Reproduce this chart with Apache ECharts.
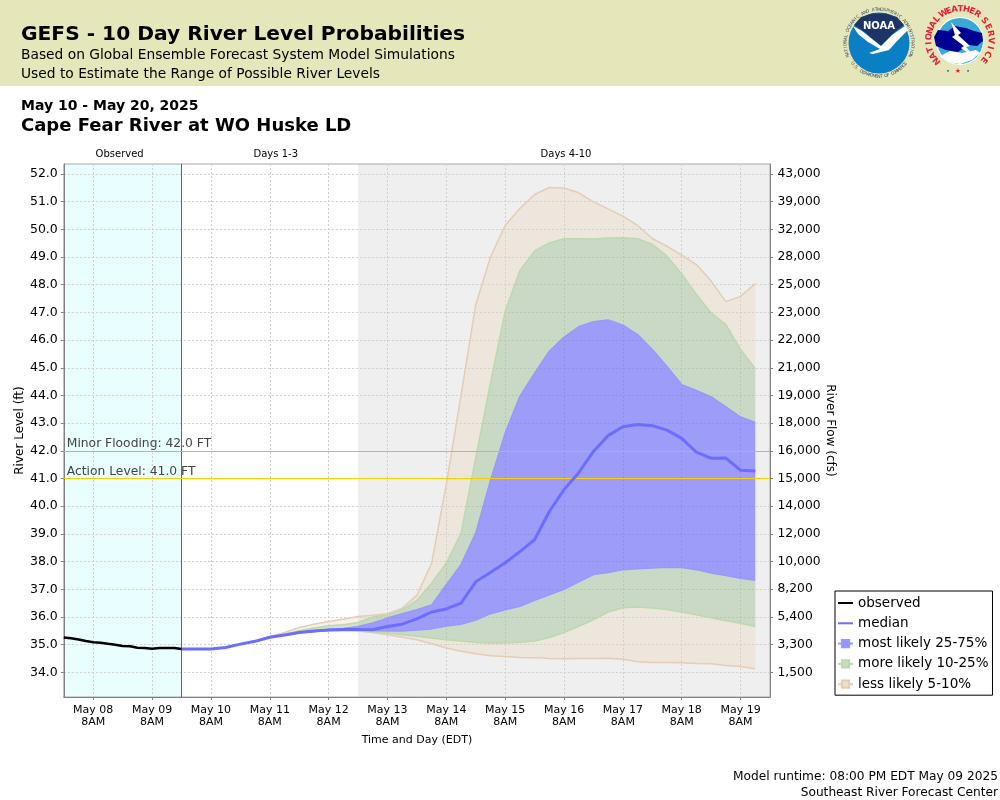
<!DOCTYPE html>
<html>
<head>
<meta charset="utf-8">
<title>GEFS - 10 Day River Level Probabilities</title>
<style>
  html, body { margin: 0; padding: 0; background: #fff; }
  #chart { width: 1000px; height: 800px; }
</style>
<script src="https://cdn.jsdelivr.net/npm/echarts@6/dist/echarts.min.js"></script>
</head>
<body>
<div id="chart"></div>
<script>
// tick labels
var levelTicks = [34, 35, 36, 37, 38, 39, 40, 41, 42, 43, 44, 45, 46, 47, 48, 49, 50, 51, 52];
var flowLabels = ['1,500', '3,300', '5,400', '8,200', '10,000', '12,000', '14,000', '15,000', '16,000', '18,000',
  '19,000', '21,000', '22,000', '23,000', '25,000', '28,000', '32,000', '39,000', '43,000'];
var dayLabels = ['May 08', 'May 09', 'May 10', 'May 11', 'May 12', 'May 13', 'May 14', 'May 15', 'May 16', 'May 17', 'May 18', 'May 19'];

// observed stage, every 3 hours from May 7 8PM
var observed = [35.26, 35.23, 35.19, 35.13, 35.09, 35.07, 35.03, 35.00, 34.95, 34.94, 34.89, 34.88, 34.85, 34.88, 34.88, 34.88, 34.84];

// forecast percentiles, every 6 hours from May 9 8PM
var median = [34.84, 34.84, 34.84, 34.90, 35.02, 35.12, 35.27, 35.35, 35.44, 35.49, 35.53, 35.55, 35.55, 35.54, 35.66, 35.74, 35.93, 36.18, 36.29, 36.50,
  37.27, 37.61, 37.96, 38.36, 38.79, 39.81, 40.60, 41.21, 41.98, 42.55, 42.87, 42.95, 42.91, 42.75, 42.45, 41.95, 41.73, 41.74, 41.30, 41.27];
var p95 = [34.84, 34.84, 34.84, 34.90, 35.02, 35.14, 35.29, 35.44, 35.62, 35.74, 35.84, 35.92, 36.02, 36.06, 36.12, 36.32, 36.78, 37.94, 40.80, 44.00,
  47.28, 49.00, 50.14, 50.75, 51.26, 51.51, 51.49, 51.32, 50.99, 50.74, 50.48, 50.14, 49.67, 49.39, 49.07, 48.73, 48.13, 47.39, 47.58, 48.04];
var p90 = [34.84, 34.84, 34.84, 34.90, 35.02, 35.13, 35.28, 35.38, 35.50, 35.60, 35.68, 35.72, 35.80, 36.00, 36.08, 36.26, 36.60, 37.22, 37.95, 39.03,
  41.75, 44.45, 47.04, 48.51, 49.22, 49.51, 49.66, 49.66, 49.65, 49.69, 49.70, 49.66, 49.46, 49.03, 48.39, 47.65, 46.98, 46.56, 45.66, 44.97];
var p75 = [34.84, 34.84, 34.84, 34.90, 35.02, 35.12, 35.27, 35.36, 35.45, 35.50, 35.55, 35.58, 35.66, 35.78, 35.96, 36.12, 36.26, 36.43, 37.17, 37.89,
  39.03, 40.93, 42.64, 43.97, 44.81, 45.60, 46.11, 46.48, 46.66, 46.73, 46.54, 46.20, 45.66, 45.05, 44.39, 44.18, 43.95, 43.59, 43.22, 43.03];
var p25 = [34.84, 34.84, 34.84, 34.90, 35.02, 35.12, 35.27, 35.35, 35.43, 35.48, 35.52, 35.54, 35.54, 35.51, 35.49, 35.49, 35.53, 35.57, 35.67, 35.74,
  35.89, 36.12, 36.26, 36.39, 36.60, 36.80, 37.00, 37.27, 37.53, 37.61, 37.71, 37.74, 37.77, 37.80, 37.79, 37.71, 37.59, 37.50, 37.40, 37.33];
var p10 = [34.84, 34.84, 34.84, 34.90, 35.02, 35.12, 35.27, 35.35, 35.43, 35.48, 35.51, 35.52, 35.50, 35.45, 35.42, 35.36, 35.30, 35.24, 35.18, 35.13,
  35.08, 35.06, 35.06, 35.09, 35.13, 35.26, 35.44, 35.66, 35.90, 36.18, 36.33, 36.36, 36.32, 36.27, 36.18, 36.08, 35.97, 35.86, 35.77, 35.66];
var p05 = [34.84, 34.84, 34.84, 34.90, 35.02, 35.12, 35.27, 35.35, 35.43, 35.48, 35.50, 35.51, 35.49, 35.44, 35.36, 35.27, 35.18, 35.03, 34.88, 34.76,
  34.67, 34.60, 34.57, 34.54, 34.53, 34.50, 34.49, 34.50, 34.50, 34.51, 34.47, 34.38, 34.36, 34.36, 34.35, 34.32, 34.31, 34.25, 34.21, 34.13];

var minorFlood = 42;
var actionLevel = 41;

// x axis runs in hours since May 7 8PM
var axisEnd = 288;
var runHour = 48;
var greyHour = 120;
var tickHours = dayLabels.map(function (d, i) { return 12 + i * 24; });

function observedPairs() {
  return observed.map(function (v, i) { return [i * 3, v]; });
}
function forecastPairs(values) {
  return values.map(function (v, i) { return [runHour + i * 6, v]; });
}
// stack has to run on the level, so it goes first in the row: [level, hour]
var stackEncode = { x: 1, y: 0 };
function stackRows(upper, lower) {
  return upper.map(function (v, i) {
    return [lower ? +(v - lower[i]).toFixed(2) : v, runHour + i * 6];
  });
}

var TAN = '#e3cdb4', GREEN = '#bcd8ae', BLUE = '#9898fa';
var TAN_FILL = '#e6cfb0', GREEN_FILL = '#97b98a', BLUE_FILL = '#6666ff';

function band(name, upper, lower, fill, opacity, lineColor, iconFill) {
  return {
    name: name,
    type: 'line',
    stack: 'range',
    encode: stackEncode,
    data: stackRows(upper, lower),
    symbol: 'rect',
    symbolSize: 9,
    showSymbol: false,
    lineStyle: { color: lineColor, width: 1.5 },
    itemStyle: { color: iconFill, borderColor: lineColor, borderWidth: 1, opacity: 1 },
    areaStyle: { color: fill, opacity: opacity },
    silent: true,
    z: 3
  };
}

var FONT = '"DejaVu Sans"';

// letters set around a circle, angles clockwise from the top
function ringText(str, cx, cy, r, from, to, size, color, weight) {
  var out = [];
  var flip = to < from;
  for (var i = 0; i < str.length; i++) {
    var deg = from + (to - from) * i / (str.length - 1);
    var a = deg * Math.PI / 180;
    out.push({
      type: 'text',
      x: cx + r * Math.sin(a),
      y: cy - r * Math.cos(a),
      rotation: flip ? Math.PI - a : -a,
      style: { text: str[i], font: (weight || 'normal') + ' ' + size + 'px ' + FONT, fill: color, align: 'center', verticalAlign: 'middle' }
    });
  }
  return out;
}

var noaa = [
  { type: 'circle', shape: { cx: 879, cy: 43, r: 30.5 }, style: { fill: '#0a7fc4' } },
  { type: 'polygon', shape: { points: [[854, 25], [861, 17], [872, 13.5], [886, 13.5], [897, 17], [904, 25], [896, 31], [889, 38], [881, 46], [875, 41], [866, 33]] }, style: { fill: '#1c3566' } },
  { type: 'polygon', shape: { points: [[853, 26], [862, 31], [872, 39], [881, 46], [892, 35], [905, 26], [908, 30], [897, 41], [889, 50], [873, 54], [869, 53], [880, 49], [868, 42], [858, 34]] }, style: { fill: '#ffffff' } },
  { type: 'text', x: 879, y: 26, style: { text: 'NOAA', font: 'bold 10px ' + FONT, fill: '#ffffff', align: 'center', verticalAlign: 'middle' } }
].concat(
  ringText('NATIONAL OCEANIC AND ATMOSPHERIC ADMINISTRATION', 879, 43, 33.5, -112, 112, 4.4, '#3f4a62'),
  ringText('U.S. DEPARTMENT OF COMMERCE', 879, 43, 33.5, 232, 128, 4.4, '#3f4a62')
);

var nws = [
  { type: 'circle', shape: { cx: 960, cy: 41, r: 24 }, style: { fill: '#ffffff' } },
  { type: 'circle', shape: { cx: 960, cy: 41, r: 23 }, style: { fill: '#38a8d6' } },
  { type: 'polygon', shape: { points: [[940, 56], [950, 51], [962, 53], [976, 50], [980, 53], [972, 60], [960, 64], [948, 62]] }, style: { fill: '#ffffff' } },
  { type: 'polygon', shape: { points: [[934, 37], [938, 30], [948, 31], [955, 26], [966, 28], [974, 31], [982, 33], [983, 41], [977, 46], [968, 45], [958, 52], [946, 50], [936, 46]] }, style: { fill: '#000090' } },
  { type: 'polygon', shape: { points: [[951, 22], [961, 33], [958, 35], [970, 46], [966, 47], [975, 58], [961, 48], [964, 46], [952, 37], [955, 35]] }, style: { fill: '#ffffff' } },
  { type: 'text', x: 948, y: 71, style: { text: '•', font: '6px ' + FONT, fill: '#1b3fa0', align: 'center', verticalAlign: 'middle' } },
  { type: 'text', x: 958, y: 71.5, style: { text: '★', font: '7px ' + FONT, fill: '#e22a2a', align: 'center', verticalAlign: 'middle' } },
  { type: 'text', x: 968, y: 71, style: { text: '•', font: '6px ' + FONT, fill: '#1b3fa0', align: 'center', verticalAlign: 'middle' } }
].concat(
  ringText('NATIONAL', 960, 40, 31, -132, -48, 8.5, '#e3203a', 'bold'),
  ringText('WEATHER', 960, 40, 31, -32, 34, 8.5, '#e3203a', 'bold'),
  ringText('SERVICE', 960, 40, 31, 52, 130, 8.5, '#e3203a', 'bold')
);

function label(text, x, y, size, weight, align) {
  return {
    type: 'text', x: x, y: y,
    style: { text: text, font: weight + ' ' + size + 'px ' + FONT, fill: '#000', align: align || 'left', verticalAlign: 'middle' }
  };
}

var gridStyle = { color: '#cfcfcf', type: [2, 2], width: 1 };

var option = {
  animation: false,
  backgroundColor: '#ffffff',
  textStyle: { fontFamily: FONT },
  grid: { left: 63.8, right: 230, top: 164, bottom: 103, outerBoundsMode: 'none', show: true, borderColor: '#a8a8a8', borderWidth: 1, backgroundColor: 'transparent' },
  graphic: [
    { type: 'rect', shape: { x: 0, y: 0, width: 1000, height: 86 }, style: { fill: '#e5e6b9' }, z: -10 },
    label('GEFS - 10 Day River Level Probabilities', 21, 34.5, 20.2, 'bold'),
    label('Based on Global Ensemble Forecast System Model Simulations', 21, 55, 13.8, 'normal'),
    label('Used to Estimate the Range of Possible River Levels', 21, 74, 13.8, 'normal'),
    label('May 10 - May 20, 2025', 21, 106, 14, 'bold'),
    label('Cape Fear River at WO Huske LD', 21, 126.5, 18, 'bold'),
    label('Model runtime: 08:00 PM EDT May 09 2025', 998, 777, 12.2, 'normal', 'right'),
    label('Southeast River Forecast Center', 998, 793, 12.2, 'normal', 'right')
  ].concat(noaa, nws),
  legend: {
    left: 835, top: 591,
    orient: 'vertical',
    align: 'left',
    data: [
      { name: 'observed', itemStyle: { opacity: 0 } },
      { name: 'median', itemStyle: { opacity: 0 } },
      'most likely 25-75%', 'more likely 10-25%', 'less likely 5-10%'
    ],
    selectedMode: false,
    backgroundColor: '#ffffff',
    borderColor: '#000000',
    borderWidth: 1,
    borderRadius: 0,
    padding: [5, 4, 4, 2],
    itemWidth: 15,
    itemHeight: 9,
    itemGap: 6.3,
    textStyle: { fontFamily: FONT, fontSize: 13.5, color: '#000' }
  },
  xAxis: {
    type: 'value',
    min: 0,
    max: axisEnd,
    name: 'Time and Day (EDT)',
    nameLocation: 'middle',
    nameGap: 38,
    nameMoveOverlap: false,
    nameTextStyle: { fontFamily: FONT, fontSize: 11, color: '#000' },
    axisLine: { lineStyle: { color: '#808080', width: 1 } },
    axisTick: { show: true, customValues: tickHours, length: 3, lineStyle: { color: '#808080' } },
    axisLabel: {
      customValues: tickHours,
      fontFamily: FONT, fontSize: 11, color: '#000', margin: 7, lineHeight: 12,
      hideOverlap: false,
      formatter: function (v) {
        return dayLabels[tickHours.indexOf(v)] + '\n8AM';
      }
    },
    splitLine: { show: true, lineStyle: gridStyle }
  },
  yAxis: [
    {
      type: 'value',
      min: 33.11,
      max: 52.36,
      name: 'River Level (ft)',
      nameLocation: 'middle',
      nameGap: 38,
      nameMoveOverlap: false,
      nameTextStyle: { fontFamily: FONT, fontSize: 12, color: '#000' },
      axisLine: { show: true, lineStyle: { color: '#808080', width: 1 } },
      axisTick: { show: true, customValues: levelTicks, length: 3, lineStyle: { color: '#808080' } },
      axisLabel: {
        customValues: levelTicks,
        fontFamily: FONT, fontSize: 12.5, color: '#000', margin: 6,
        formatter: function (v) { return v.toFixed(1); }
      },
      splitLine: { show: true, lineStyle: gridStyle }
    },
    {
      type: 'value',
      position: 'right',
      min: 33.11,
      max: 52.36,
      name: 'River Flow (cfs)',
      nameLocation: 'middle',
      nameRotate: -90,
      nameGap: 54,
      nameMoveOverlap: false,
      nameTextStyle: { fontFamily: FONT, fontSize: 12, color: '#000' },
      axisLine: { show: true, lineStyle: { color: '#808080', width: 1 } },
      axisTick: { show: true, customValues: levelTicks, length: 3, lineStyle: { color: '#808080' } },
      axisLabel: {
        customValues: levelTicks,
        fontFamily: FONT, fontSize: 12.3, color: '#000', margin: 7.5,
        formatter: function (v) { return flowLabels[levelTicks.indexOf(v)]; }
      },
      splitLine: { show: false }
    }
  ],
  series: [
    {
      name: 'periods',
      type: 'line',
      data: [],
      z: -1,
      silent: true,
      markArea: {
        silent: true,
        z: -1,
        label: { position: 'top', distance: 5, fontFamily: FONT, fontSize: 10, color: '#000' },
        data: [
          [{ name: 'Observed', xAxis: 0, label: { offset: [-3, 0] }, itemStyle: { color: '#e9fefe', opacity: 1 } }, { xAxis: runHour }],
          [{ name: 'Days 1-3', xAxis: runHour, label: { offset: [6, 0] }, itemStyle: { color: 'rgba(255,255,255,0)' } }, { xAxis: greyHour }],
          [{ name: 'Days 4-10', xAxis: greyHour, label: { offset: [2, 0] }, itemStyle: { color: '#efefef', opacity: 1 } }, { xAxis: axisEnd }]
        ]
      }
    },
    {
      name: 'lower',
      type: 'line',
      stack: 'range',
      encode: stackEncode,
      data: stackRows(p05),
      symbol: 'none',
      lineStyle: { color: TAN, width: 1.5 },
      silent: true,
      z: 3
    },
    band('less lower', p10, p05, TAN_FILL, 0.3, GREEN, '#ecdfce'),
    band('more lower', p25, p10, GREEN_FILL, 0.42, BLUE, '#c8dcbc'),
    band('most likely 25-75%', p75, p25, BLUE_FILL, 0.6, BLUE, '#9494fa'),
    band('more likely 10-25%', p90, p75, GREEN_FILL, 0.42, GREEN, '#c8dcbc'),
    band('less likely 5-10%', p95, p90, TAN_FILL, 0.3, TAN, '#ecdfce'),
    {
      name: 'median',
      type: 'line',
      data: forecastPairs(median),
      symbol: 'none',
      lineStyle: { color: '#6c6cff', width: 3 },
      silent: true,
      z: 5
    },
    {
      name: 'observed',
      type: 'line',
      data: observedPairs(),
      symbol: 'none',
      lineStyle: { color: '#000000', width: 2.5 },
      silent: true,
      z: 6,
      markLine: {
        silent: true,
        symbol: 'none',
        animation: false,
        z: 4,
        data: [
          { xAxis: runHour, lineStyle: { color: '#cf3a32', type: 'solid', width: 1 }, label: { show: false } },
          {
            yAxis: minorFlood,
            lineStyle: { color: '#eda469', type: 'solid', width: 1 },
            label: { show: true, formatter: 'Minor Flooding: ' + minorFlood.toFixed(1) + ' FT', position: 'insideStartTop', distance: [3, 1], fontFamily: FONT, fontSize: 12.3, color: '#444' }
          },
          {
            yAxis: actionLevel,
            lineStyle: { color: '#f7d000', type: 'solid', width: 1 },
            label: { show: true, formatter: 'Action Level: ' + actionLevel.toFixed(1) + ' FT', position: 'insideStartTop', distance: [3, 1], fontFamily: FONT, fontSize: 12.3, color: '#444' }
          }
        ]
      }
    }
  ]
};

var chart = echarts.init(document.getElementById('chart'));
chart.setOption(option);
</script>
</body>
</html>
